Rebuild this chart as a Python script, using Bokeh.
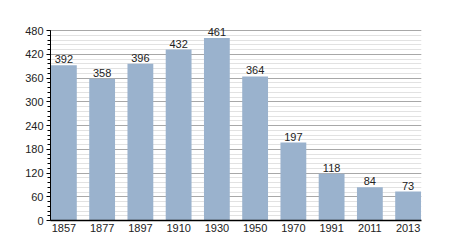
from bokeh.plotting import figure
from bokeh.models import ColumnDataSource, FixedTicker, Range1d
from bokeh.core.properties import value
from bokeh.embed import file_html
from bokeh.resources import INLINE

years = ["1857", "1877", "1897", "1910", "1930", "1950", "1970", "1991", "2011", "2013"]
population = [392, 358, 396, 432, 461, 364, 197, 118, 84, 73]
y_ticks = [0, 60, 120, 180, 240, 300, 360, 420, 480]

xs = list(range(len(years)))
src = ColumnDataSource(dict(x=xs, top=population, label=[str(v) for v in population]))

y_max = 480
y_top = y_max * 200 / 190  # room above the top gridline for value labels

p = figure(width=450, height=250, output_backend="svg", toolbar_location=None,
           x_range=Range1d(-0.35, len(years) - 1 + 0.35), y_range=Range1d(0, y_top),
           min_border_left=50, min_border_right=29, min_border_top=20, min_border_bottom=30)
p.outline_line_color = None
p.background_fill_color = "white"

p.vbar(x="x", top="top", width=0.675, bottom=0, source=src,
       fill_color="#9ab2cd", line_color=None)
p.text(x="x", y="top", text="label", source=src, text_align="center",
       text_baseline="bottom", y_offset=-2, text_font=value("Liberation Sans"),
       text_font_size="11px", text_color="#222222")

# axes
p.xaxis.ticker = FixedTicker(ticks=xs)
p.xaxis.major_label_overrides = {i: y for i, y in enumerate(years)}
p.xaxis.major_tick_in = 0
p.xaxis.major_tick_out = 0
p.xaxis.minor_tick_out = 0
p.xaxis.axis_line_color = "black"
p.xaxis.axis_line_width = 1.5
p.xaxis.major_label_standoff = 3
p.xaxis.major_label_text_font = "Liberation Sans"
p.xaxis.major_label_text_font_size = "11px"
p.xaxis.major_label_text_color = "#222222"

p.yaxis.ticker = FixedTicker(ticks=y_ticks, minor_ticks=list(range(0, y_max + 1, 12)))
p.yaxis.bounds = (0, y_max)
p.yaxis.major_tick_in = 0
p.yaxis.major_tick_out = 4
p.yaxis.minor_tick_in = 0
p.yaxis.minor_tick_out = 3
p.yaxis.axis_line_color = "black"
p.yaxis.major_label_standoff = 3
p.yaxis.major_label_text_font = "Liberation Sans"
p.yaxis.major_label_text_font_size = "11px"
p.yaxis.major_label_text_color = "#222222"

# grids
p.xgrid.grid_line_color = None
p.ygrid.bounds = (0, y_max)
p.ygrid.grid_line_color = "#a8a8a8"
p.ygrid.minor_grid_line_color = "#e2e2e2"
p.ygrid.level = "underlay"

open("out.html", "w").write(file_html(p, INLINE))
